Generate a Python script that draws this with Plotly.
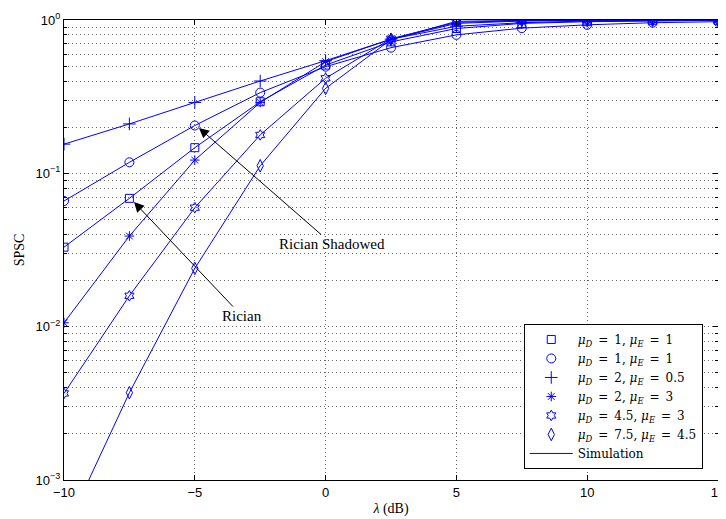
import plotly.graph_objects as go
import numpy as np

# ---------------- data ----------------
snr_db = [-10, -7.5, -5, -2.5, 0, 2.5, 5, 7.5, 10, 12.5, 15]

spsc_square = [0.033, 0.0687, 0.147, 0.293, 0.508, 0.72, 0.88, 0.95, 0.975, 0.99, 0.995]
spsc_circle = [0.066, 0.118, 0.205, 0.336, 0.496, 0.66, 0.80, 0.885, 0.93, 0.96, 0.975]
spsc_plus = [0.155, 0.21, 0.29, 0.40, 0.543, 0.75, 0.91, 0.96, 0.985, 0.995, 0.998]
spsc_star = [0.0106, 0.039, 0.122, 0.29, 0.535, 0.75, 0.95, 0.985, 0.995, 0.999, 1.0]
spsc_hex = [0.00367, 0.0159, 0.0597, 0.178, 0.417, 0.755, 0.965, 0.99, 0.998, 1.0, 1.0]
spsc_diamond = [0.00045, 0.00371, 0.024, 0.112, 0.358, 0.745, 0.98, 0.995, 0.999, 1.0, 1.0]

series_values = [spsc_square, spsc_circle, spsc_plus, spsc_star, spsc_hex, spsc_diamond]
mu_d = ["1", "1", "2", "2", "4.5", "7.5"]
mu_e = ["1", "1", "0.5", "3", "3", "4.5"]
SP = "\u2002"
series_names = [
    f"<i>μ</i><sub><i>D</i></sub>{SP}={SP}{d}, <i>μ</i><sub><i>E</i></sub>{SP}={SP}{e}"
    for d, e in zip(mu_d, mu_e)
]
series_symbols = ["square-open", "circle-open", "cross-thin-open", "asterisk-open",
                  "hexagram-open", "diamond-tall-open"]
series_sizes = [8, 9, 9, 8, 8, 9]

x_tickvals = [-10, -5, 0, 5, 10, 15]
x_ticktext = ["−10", "−5", "0", "5", "10", "15"]
y_tickvals = [0.001, 0.01, 0.1, 1]
y_ticktext = ["10<sup>−3</sup>", "10<sup>−2</sup>", "10<sup>−1</sup>", "10<sup>0</sup>"]

BLUE = "#0000FF"
SERIF = "Liberation Serif"
LEGEND_FONT = "DejaVu Serif"
SANS = "Liberation Sans"

fig = go.Figure()

# analytical markers
for vals, name, sym, sz in zip(series_values, series_names, series_symbols, series_sizes):
    fig.add_trace(go.Scatter(
        x=snr_db, y=vals, mode="markers", name=name,
        marker=dict(symbol=sym, size=sz, color=BLUE, line=dict(color=BLUE, width=1)),
    ))

# simulation lines
for i, vals in enumerate(series_values):
    fig.add_trace(go.Scatter(
        x=snr_db, y=vals, mode="lines", name="Simulation",
        line=dict(color=BLUE, width=1),
        showlegend=(i == 0), legendgroup="sim",
    ))

# annotations
fig.add_annotation(
    x=-4.84, y=np.log10(0.1975), ax=0.245, ay=-1.461,
    xref="x", yref="y", axref="x", ayref="y",
    text="Rician Shadowed", showarrow=True, arrowhead=2, arrowsize=2,
    arrowwidth=1, arrowcolor="black",
    font=dict(family=SERIF, size=15, color="black"),
)
fig.add_annotation(
    x=-7.324, y=np.log10(0.065), ax=-3.196, ay=-1.931,
    xref="x", yref="y", axref="x", ayref="y",
    text="Rician", showarrow=True, arrowhead=2, arrowsize=2,
    arrowwidth=1, arrowcolor="black",
    font=dict(family=SERIF, size=15, color="black"),
)

grid_dash = "1px,3px"
grid_color = "#666666"

# the page body adds an 8px margin, so the figure is sized to fit the window
fig.update_layout(
    width=718, height=511,
    margin=dict(l=56, r=8, t=12, b=39),
    paper_bgcolor="white", plot_bgcolor="white",
    showlegend=True,
    legend=dict(
        x=0.703, y=0.024, xanchor="left", yanchor="bottom",
        bgcolor="white", bordercolor="black", borderwidth=1,
        font=dict(family=LEGEND_FONT, size=12, color="black"),
        tracegroupgap=0, itemwidth=43,
    ),
    xaxis=dict(
        range=[-10, 15], tickvals=x_tickvals, ticktext=x_ticktext,
        showline=True, linecolor="black", linewidth=1, mirror="ticks",
        ticks="inside", ticklen=5, tickcolor="black",
        showgrid=True, gridcolor=grid_color, griddash=grid_dash, gridwidth=1,
        zeroline=False, automargin=False, ticklabeloverflow="allow",
        tickfont=dict(family=SANS, size=13, color="black"),
        title=dict(text="<i>λ</i> (dB)", font=dict(family=SERIF, size=14, color="black"), standoff=4),
    ),
    yaxis=dict(
        type="log", range=[-3, 0], tickvals=y_tickvals, ticktext=y_ticktext,
        showline=True, linecolor="black", linewidth=1, mirror="ticks",
        ticks="inside", ticklen=5, tickcolor="black",
        showgrid=True, gridcolor=grid_color, griddash=grid_dash, gridwidth=1,
        zeroline=False, automargin=False, ticklabeloverflow="allow",
        minor=dict(dtick="D1", ticks="inside", ticklen=3, tickcolor="black",
                   showgrid=True, gridcolor=grid_color, griddash=grid_dash, gridwidth=1),
        tickfont=dict(family=SANS, size=13, color="black"),
        title=dict(text="SPSC", font=dict(family=SERIF, size=14, color="black"), standoff=7),
    ),
)

fig.write_html("out.html")
